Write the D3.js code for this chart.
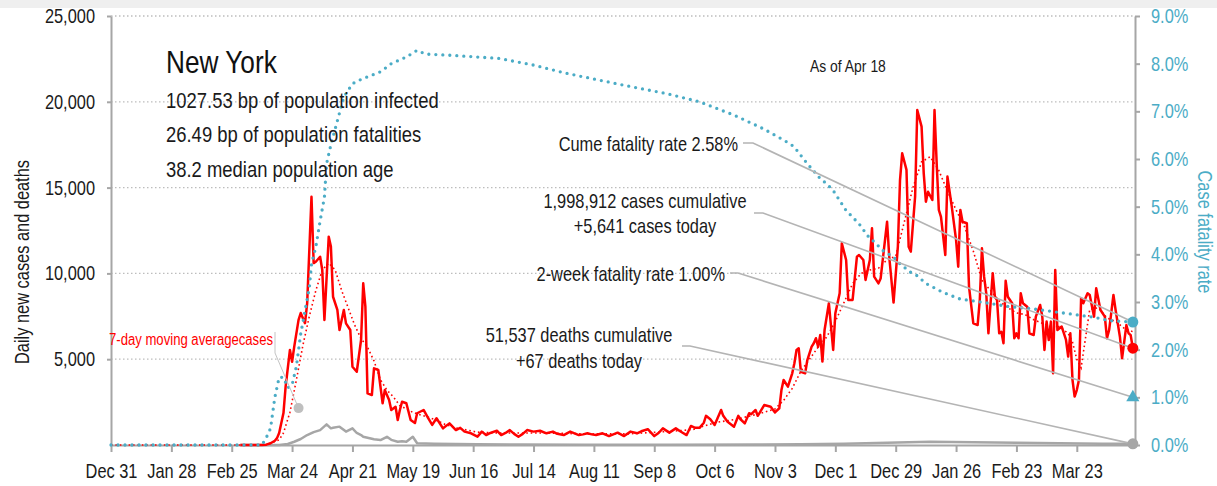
<!DOCTYPE html>
<html>
<head>
<meta charset="utf-8">
<script src="https://cdn.jsdelivr.net/npm/d3@7"></script>
<style>
  body { margin: 0; background: #fff; }
  svg { display: block; font-family: "Liberation Sans", Arial, sans-serif; }
</style>
</head>
<body>
<svg id="root"></svg>
<script>
// day numbers are counted from Dec 31 2019
const startDay = "2019-12-31"
const endDay = "2021-04-19"
const asOf = "2021-04-18"

const xTicks = ["2019-12-31", "2020-01-28", "2020-02-25", "2020-03-24", "2020-04-21", "2020-05-19",
  "2020-06-16", "2020-07-14", "2020-08-11", "2020-09-08", "2020-10-06", "2020-11-03", "2020-12-01",
  "2020-12-29", "2021-01-26", "2021-02-23", "2021-03-23"]
const leftTicks = [5000, 10000, 15000, 20000, 25000]
const rightTicks = [0, 1, 2, 3, 4, 5, 6, 7, 8, 9]

const title = "New York"
const infoLines = ["1027.53 bp of population infected", "26.49 bp of population fatalities", "38.2 median population age"]

const cumeCases = 1998912
const todayCases = 5641
const cumeDeaths = 51537
const todayDeaths = 67
const cumeRate = 2.58
const twoWeekRate = 1.00

// [day, new cases]
const dailyCases = [[60,0],[70,0],[72,20],[74,100],[76,250],[77,400],[78,700],[80,1860],[81,3400],[83,5540],[84,4850],[85,5730],
  [87,7290],[88,7690],[90,7100],[91,8270],[93,14470],[94,10600],[95,10680],[97,10970],[98,10200],[99,7290],[101,12140],[102,11560],
  [103,8640],[105,7870],[106,6700],[107,7285],[108,7870],[109,7090],[111,6700],[112,4560],[114,4270],[116,6120],[117,9420],[118,8060],
  [119,3010],[121,2910],[122,4470],[124,4370],[126,2430],[127,3200],[129,2620],[130,2040],[132,2230],[133,1460],[134,2040],[135,2520],
  [137,2430],[139,1460],[141,1280],[142,1850],[145,2040],[147,1600],[149,1170],[151,1560],[154,970],[157,1260],[160,870],[162,1000],
  [164,780],[167,680],[170,485],[172,780],[174,580],[176,700],[179,835],[181,580],[183,700],[185,870],[187,650],[189,485],[191,650],
  [193,870],[196,780],[199,830],[202,680],[205,780],[207,650],[210,580],[213,780],[215,680],[217,580],[219,620],[221,680],[223,620],
  [225,580],[228,680],[231,520],[233,620],[235,720],[238,520],[241,780],[244,680],[246,800],[249,920],[252,520],[254,700],[256,970],
  [259,720],[262,970],[264,800],[267,580],[269,1110],[271,1000],[273,1000],[275,1300],[276,1700],[278,1500],[280,1170],[283,2040],
  [284,1700],[286,1360],[289,1070],[291,1700],[292,1500],[294,1260],[296,1850],[297,1800],[299,2040],[300,1700],[301,1900],[303,2330],
  [306,2230],[308,1900],[310,2140],[311,3200],[312,3790],[314,3400],[316,4180],[317,4760],[318,5540],[319,5640],[320,4270],[322,4180],
  [323,4950],[325,5730],[326,5930],[327,6220],[328,5730],[329,6410],[330,4860],[331,6700],[333,8260],[335,5540],[336,7680],[338,8840],
  [339,11760],[341,10780],[342,8450],[344,8450],[346,10970],[347,11070],[349,10780],[350,9620],[352,10780],[353,12630],[354,9810],
  [356,9420],[357,9700],[360,13010],[361,10970],[363,8300],[365,11560],[366,15440],[367,17000],[369,16030],[370,11560],[371,11270],
  [373,14470],[374,19520],[376,18550],[377,15830],[378,14180],[379,14760],[381,14280],[382,19520],[383,16420],[384,13700],[385,13300],
  [387,11070],[388,15640],[390,13890],[392,11950],[393,10390],[394,13700],[395,13010],[397,12920],[398,9230],[400,7090],[402,6990],
  [403,8450],[404,11460],[405,9810],[406,8840],[407,6510],[409,10010],[410,8640],[411,8450],[412,6510],[413,6600],[414,5930],[415,9570],
  [416,8640],[418,8260],[419,6220],[420,6510],[421,6220],[422,8840],[423,8260],[425,8060],[426,6510],[428,6410],[429,7480],[431,8160],
  [432,7480],[433,5540],[434,7190],[435,6120],[436,7190],[437,4180],[438,10200],[439,6700],[441,6900],[443,6120],[444,5150],[445,6510],
  [446,3790],[447,2820],[448,3200],[449,3790],[450,8550],[451,8260],[453,8840],[454,8740],[456,7480],[457,9130],[459,7870],[461,7480],
  [462,6220],[463,6700],[465,8740],[466,7870],[468,6310],[469,5050],[471,6990],[472,6510],[473,6400],[474,5641]]

// [day, 7-day moving average of cases]
const avgCases = [[0,0],[72,0],[78,300],[80,700],[83,1900],[86,3800],[89,5800],[92,7500],[95,9000],[98,10200],[101,10600],[104,10200],
  [107,9000],[110,8000],[113,7000],[116,6200],[119,5700],[122,4900],[125,3800],[128,3200],[131,2800],[134,2300],[137,2100],[140,1900],
  [145,1700],[150,1500],[155,1200],[160,1000],[170,750],[180,700],[200,700],[220,650],[240,650],[260,800],[270,900],[280,1300],
  [290,1500],[300,1800],[308,2100],[312,2600],[316,3300],[320,4300],[324,5000],[328,5700],[332,6300],[336,7200],[340,8300],[344,9400],
  [348,10000],[352,10200],[356,10300],[360,10800],[364,11000],[368,13000],[372,15000],[376,16500],[380,16800],[384,16000],[388,14800],
  [392,13700],[396,12700],[400,11300],[404,9600],[408,9000],[412,8400],[416,8000],[420,7700],[424,7600],[428,7300],[432,7100],
  [436,6900],[440,6900],[444,6500],[446,6000],[448,5000],[450,4500],[452,6200],[454,7900],[458,8000],[462,7400],[466,7200],
  [470,6800],[474,6600]]

// [day, new deaths]
const dailyDeaths = [[60,0],[78,5],[82,60],[85,190],[88,350],[91,580],[94,750],[97,870],[100,1200],[102,970],[103,1000],[106,1070],
  [109,780],[112,970],[114,700],[116,580],[117,485],[120,390],[122,330],[125,290],[128,480],[130,300],[133,190],[135,220],[137,190],
  [140,480],[142,100],[150,80],[160,60],[170,40],[190,25],[220,15],[260,15],[300,25],[320,40],[340,70],[350,100],[360,130],[370,160],
  [380,190],[390,170],[400,160],[410,150],[420,130],[430,110],[440,100],[450,90],[460,80],[470,70],[474,67]]

// [day, cumulative case fatality rate in %]
const fatalityRate = [[0,0],[70,0],[72,0.15],[74,0.35],[76,1.0],[78,1.42],[80,1.42],[82,1.2],[84,1.26],[86,1.65],[88,2.33],[90,2.82],
  [92,3.3],[93,3.8],[95,4.15],[97,4.7],[99,5.2],[100,5.9],[102,6.3],[105,6.8],[108,7.3],[112,7.58],[116,7.67],[125,7.83],[130,8.0],
  [137,8.14],[142,8.28],[146,8.2],[156,8.18],[180,8.11],[196,7.97],[211,7.8],[227,7.65],[242,7.51],[258,7.37],[273,7.2],[289,6.92],
  [301,6.67],[304,6.6],[315,6.32],[317,6.25],[323,5.9],[329,5.59],[332,5.48],[335,5.34],[341,4.92],[347,4.64],[351,4.39],[355,4.22],
  [358,4.08],[363,3.94],[366,3.8],[371,3.62],[374,3.55],[378,3.39],[386,3.2],[394,3.06],[402,3.01],[409,2.96],[417,2.9],[425,2.87],
  [432,2.83],[440,2.78],[448,2.73],[456,2.68],[463,2.61],[474,2.58]]

// point the "7-day moving average" label points at: [day, cases]
const avgLabelPoint = [87, 2150]

const blue = "#4bacc6"
const grey = "#a6a6a6"
const ink = "#1a1a1a"

const W = 1217, H = 486
const margin = { top: 16, right: 82, bottom: 41, left: 111 },
  width = W - margin.left - margin.right,
  height = H - margin.top - margin.bottom

const parse = d3.timeParse("%Y-%m-%d")
const day0 = parse(startDay)
const toDate = d => d3.timeDay.offset(day0, d)

// no narrow font installed: squeeze Liberation Sans sideways around each text's anchor
function condense(sel, k = 0.82) {
  sel.each(function () {
    const t = d3.select(this)
    const ax = +t.attr("x") || 0
    const prev = t.attr("transform") || ""
    t.attr("transform", prev + ` translate(${ax},0) scale(${k},1) translate(${-ax},0)`)
  })
}

const root = d3.select("#root").attr("width", W).attr("height", H)

// thin grey band on top of the picture
root.append("rect").attr("x", 0).attr("y", 0).attr("width", W).attr("height", 8).attr("fill", "#efefef")

const svg = root.append("g")
  .attr("transform", "translate(" + margin.left + "," + margin.top + ")")

const x = d3.scaleTime([day0, parse(endDay)], [0, width])
const yLeft = d3.scaleLinear([0, 25000], [height, 0])
const yRight = d3.scaleLinear([0, 9], [height, 0])

// grid
svg.append("g").selectAll("line")
  .data(leftTicks)
  .join("line")
  .attr("x1", 0).attr("x2", width)
  .attr("y1", d => yLeft(d)).attr("y2", d => yLeft(d))
  .attr("stroke", "#bdbdbd")
  .attr("stroke-width", 1.3)
  .attr("stroke-dasharray", "1.5,2.5")

function styleAxis(g, color) {
  g.attr("font-family", null)
  g.select(".domain").attr("stroke", grey).attr("stroke-width", 2)
  g.selectAll(".tick line").attr("stroke", grey).attr("stroke-width", 2)
  g.selectAll(".tick text").attr("fill", color).attr("font-size", 20).call(condense)
}

svg.append("g")
  .call(d3.axisLeft(yLeft).tickValues(leftTicks).tickFormat(d3.format(","))
    .tickSize(4).tickSizeOuter(0).tickPadding(12))
  .call(g => styleAxis(g, ink))

svg.append("g")
  .attr("transform", `translate(${width},0)`)
  .call(d3.axisRight(yRight).tickValues(rightTicks).tickFormat(d => d.toFixed(1) + "%")
    .tickSize(5).tickSizeOuter(0).tickPadding(11))
  .call(g => styleAxis(g, blue))

svg.append("g")
  .attr("transform", `translate(0,${height})`)
  .call(d3.axisBottom(x).tickValues(xTicks.map(parse)).tickFormat(d3.timeFormat("%b %-d"))
    .tickSize(7).tickSizeOuter(0).tickPadding(12))
  .call(g => styleAxis(g, ink))

// Axes label
svg.append("text")
  .attr("text-anchor", "middle")
  .attr("transform", `translate(${29 - margin.left},${262 - margin.top}) rotate(-90)`)
  .attr("font-size", 20)
  .attr("fill", ink)
  .text("Daily new cases and deaths")
  .call(condense)

svg.append("text")
  .attr("text-anchor", "middle")
  .attr("transform", `translate(${1198 - margin.left},${232 - margin.top}) rotate(90)`)
  .attr("font-size", 20)
  .attr("fill", blue)
  .text("Case fatality rate")
  .call(condense)

// series
const lineLeft = d3.line().x(d => x(toDate(d[0]))).y(d => yLeft(d[1]))
const lineRight = d3.line().x(d => x(toDate(d[0]))).y(d => yRight(d[1]))

svg.append("path")
  .datum(dailyDeaths)
  .attr("fill", "none")
  .attr("stroke", grey)
  .attr("stroke-width", 2.5)
  .attr("stroke-linejoin", "round")
  .attr("d", lineLeft)

svg.append("path")
  .datum(dailyCases)
  .attr("fill", "none")
  .attr("stroke", "#ff0000")
  .attr("stroke-width", 2.5)
  .attr("stroke-linejoin", "round")
  .attr("d", lineLeft)

svg.append("path")
  .datum(avgCases)
  .attr("fill", "none")
  .attr("stroke", "#ff0000")
  .attr("stroke-width", 1.6)
  .attr("stroke-dasharray", "1.6,2.8")
  .attr("d", lineLeft)

svg.append("path")
  .datum(fatalityRate)
  .attr("fill", "none")
  .attr("stroke", blue)
  .attr("stroke-width", 3.3)
  .attr("stroke-linecap", "round")
  .attr("stroke-dasharray", "0,7")
  .attr("d", lineRight)

// title block
svg.append("text")
  .attr("x", 166 - margin.left).attr("y", 73 - margin.top)
  .attr("font-size", 32).attr("fill", "#111")
  .text(title)
  .call(condense)

svg.append("g").selectAll("text")
  .data(infoLines)
  .join("text")
  .attr("x", 166 - margin.left)
  .attr("y", (d, i) => [108, 142, 177][i] - margin.top)
  .attr("font-size", 22.5).attr("fill", ink)
  .text(d => d)
  .call(condense)

svg.append("text")
  .attr("x", 810 - margin.left).attr("y", 72 - margin.top)
  .attr("font-size", 17).attr("fill", ink)
  .text("As of " + d3.timeFormat("%b %-d")(parse(asOf)))
  .call(condense)

// callouts on the right edge
const xEnd = x(parse(asOf))
const fmt = d3.format(",")
const callouts = [
  { lines: ["Cume fatality rate " + cumeRate.toFixed(2) + "%"], anchor: "end", tx: 738, ty: [151],
    from: [743, 143], bend: 753, to: [xEnd, yRight(cumeRate)] },
  { lines: [fmt(cumeCases) + " cases cumulative", "+" + fmt(todayCases) + " cases today"], anchor: "middle", tx: 645, ty: [208, 233],
    from: [754, 213], bend: 763, to: [xEnd, yLeft(todayCases)] },
  { lines: ["2-week fatality rate " + twoWeekRate.toFixed(2) + "%"], anchor: "end", tx: 725, ty: [281],
    from: [730, 273], bend: 738, to: [xEnd, yRight(twoWeekRate)] },
  { lines: [fmt(cumeDeaths) + " deaths cumulative", "+" + todayDeaths + " deaths today"], anchor: "middle", tx: 579, ty: [342, 368],
    from: [682, 346], bend: 690, to: [xEnd, yLeft(todayDeaths)] }
]

callouts.forEach(c => {
  const fy = c.from[1] - margin.top
  svg.append("polyline")
    .attr("points", [[c.from[0] - margin.left, fy], [c.bend - margin.left, fy], c.to].join(" "))
    .attr("fill", "none")
    .attr("stroke", "#b4b4b4")
    .attr("stroke-width", 1.6)
  c.lines.forEach((t, i) => {
    svg.append("text")
      .attr("x", c.tx - margin.left).attr("y", c.ty[i] - margin.top)
      .attr("text-anchor", c.anchor)
      .attr("font-size", 20).attr("fill", ink)
      .text(t)
      .call(condense)
  })
})

// end markers
svg.append("circle").attr("cx", xEnd).attr("cy", yRight(cumeRate)).attr("r", 5.5).attr("fill", blue)
svg.append("circle").attr("cx", xEnd).attr("cy", yLeft(todayCases)).attr("r", 5.5).attr("fill", "#ff0000")
svg.append("path")
  .attr("d", d3.symbol(d3.symbolTriangle, 75)())
  .attr("transform", `translate(${xEnd},${yRight(twoWeekRate)})`)
  .attr("fill", blue)
svg.append("circle").attr("cx", xEnd).attr("cy", yLeft(todayDeaths)).attr("r", 5.5).attr("fill", grey)

// 7-day moving average label
const px = x(toDate(avgLabelPoint[0])), py = yLeft(avgLabelPoint[1])
svg.append("polyline")
  .attr("points", [[275 - margin.left, 332 - margin.top], [275 - margin.left, 353 - margin.top], [px, py]].join(" "))
  .attr("fill", "none")
  .attr("stroke", "#c4c4c4")
  .attr("stroke-width", 1)
svg.append("circle").attr("cx", px).attr("cy", py).attr("r", 5).attr("fill", "#bfbfbf")
svg.append("text")
  .attr("x", 109 - margin.left).attr("y", 345 - margin.top)
  .attr("font-size", 16).attr("fill", "#ff0000")
  .text("7-day moving averagecases")
  .call(condense)
</script>
</body>
</html>
